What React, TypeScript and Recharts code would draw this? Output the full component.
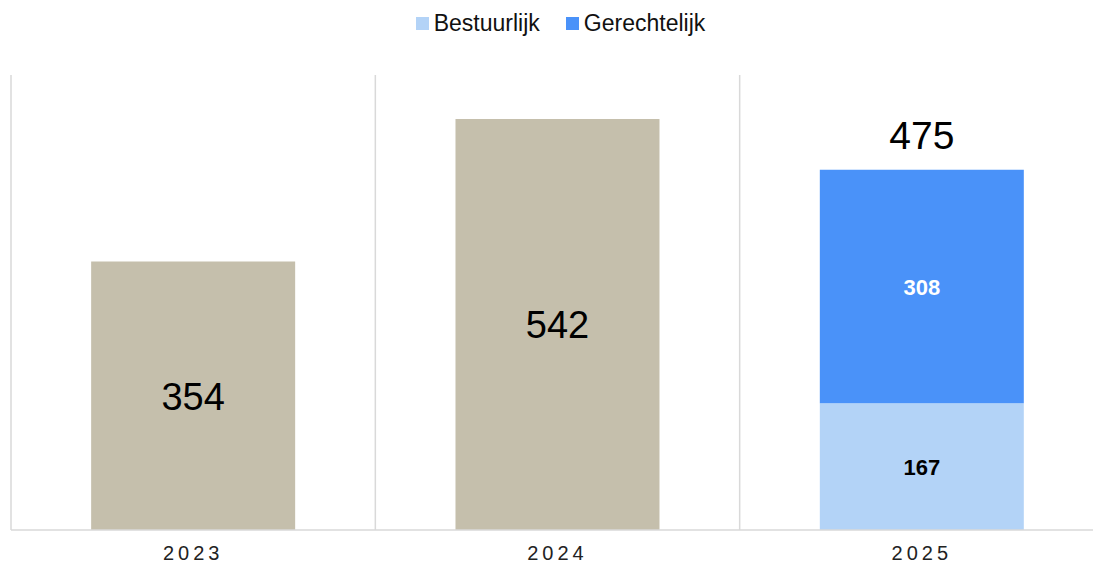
import React from 'react';
import { BarChart, Bar, XAxis, YAxis, CartesianGrid, LabelList } from 'recharts';

const years = ['2023', '2024', '2025'];
const totalOnly = [354, 542, null];
const bestuurlijk = [null, null, 167];
const gerechtelijk = [null, null, 308];

const data = years.map((year, i) => ({
  year,
  totaal: totalOnly[i],
  bestuurlijk: bestuurlijk[i],
  gerechtelijk: gerechtelijk[i],
  // sum shown above the stacked bar
  som: gerechtelijk[i] == null ? null : (bestuurlijk[i] || 0) + (gerechtelijk[i] || 0),
}));

const FONT = '"Liberation Sans", Arial, sans-serif';

const BEIGE = '#C5BFAC';
const LIGHT_BLUE = '#B3D3F7';
const BLUE = '#4A92F9';

const YearTick = (props: any) => {
  const { x, payload } = props;
  return (
    <text x={x} y={560} textAnchor="middle" fontSize={20} fill="#222" letterSpacing={4} fontFamily={FONT}>
      {payload.value}
    </text>
  );
};

const CenterLabel = (props: any) => {
  const { x, y, width, height, value, textColor, size, weight } = props;
  if (value == null) return null;
  return (
    <text
      x={x + width / 2}
      y={y + height / 2 + 1}
      textAnchor="middle"
      dominantBaseline="central"
      fontSize={size}
      fontWeight={weight}
      fill={textColor}
      fontFamily={FONT}
    >
      {value}
    </text>
  );
};

const TotalLabel = (props: any) => {
  const { x, y, width, value } = props;
  if (value == null) return null;
  return (
    <text x={x + width / 2} y={y - 34} textAnchor="middle" dominantBaseline="central" fontSize={39} fill="#000" fontFamily={FONT}>
      {value}
    </text>
  );
};

const LegendItem = ({ color, label }: { color: string; label: string }) => (
  <span style={{ display: 'inline-flex', alignItems: 'center', margin: '0 13px' }}>
    <span style={{ width: 13, height: 13, background: color, display: 'inline-block', marginRight: 5 }} />
    <span style={{ fontSize: 23, color: '#111' }}>{label}</span>
  </span>
);

const App: React.FC = () => {
  return (
    <div style={{ position: 'absolute', left: 0, top: 0, width: 1093, height: 565, overflow: 'hidden', background: '#fff', fontFamily: FONT }}>
      <div style={{ position: 'absolute', top: 10, left: 0, width: 1121, textAlign: 'center', lineHeight: '26px' }}>
        <LegendItem color={LIGHT_BLUE} label="Bestuurlijk" />
        <LegendItem color={BLUE} label="Gerechtelijk" />
      </div>
      <BarChart
        width={1104}
        height={565}
        data={data}
        margin={{ top: 75, right: 0, left: 11, bottom: 0 }}
        barCategoryGap="22%"
        style={{ position: 'absolute', left: 0, top: 0 }}
      >
        <CartesianGrid
          horizontal={false}
          stroke="#d9d9d9"
          strokeWidth={1.5}
          verticalCoordinatesGenerator={({ offset }: any) =>
            years.map((_, i) => offset.left + (i * offset.width) / years.length)
          }
        />
        <XAxis
          dataKey="year"
          height={35}
          axisLine={{ stroke: '#d9d9d9', strokeWidth: 1.5 }}
          tickLine={false}
          tick={<YearTick />}
          interval={0}
        />
        <YAxis hide domain={[0, 600]} />
        <Bar dataKey="totaal" stackId="a" fill={BEIGE} isAnimationActive={false}>
          <LabelList dataKey="totaal" content={<CenterLabel textColor="#000" size={38} weight="normal" />} />
        </Bar>
        <Bar dataKey="bestuurlijk" stackId="a" fill={LIGHT_BLUE} isAnimationActive={false}>
          <LabelList dataKey="bestuurlijk" content={<CenterLabel textColor="#000" size={22} weight="bold" />} />
        </Bar>
        <Bar dataKey="gerechtelijk" stackId="a" fill={BLUE} isAnimationActive={false}>
          <LabelList dataKey="gerechtelijk" content={<CenterLabel textColor="#fff" size={22} weight="bold" />} />
          <LabelList dataKey="som" content={<TotalLabel />} />
        </Bar>
      </BarChart>
    </div>
  );
};

export default App;
